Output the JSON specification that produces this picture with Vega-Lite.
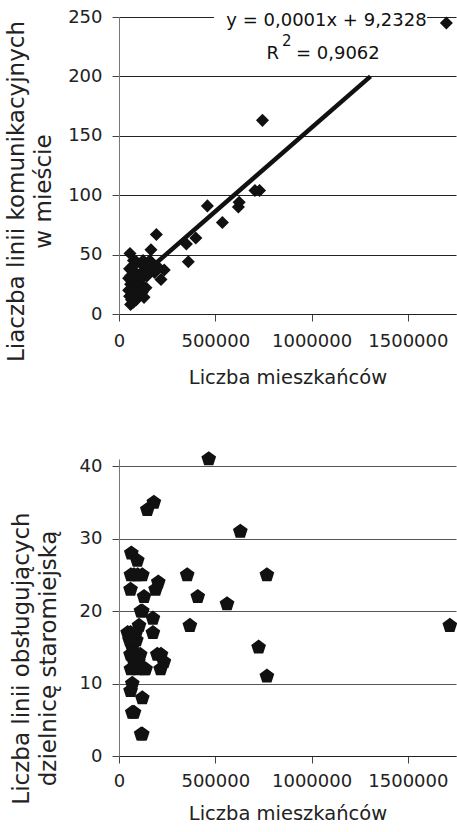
{
  "$schema": "https://vega.github.io/schema/vega-lite/v6.json",
  "background": "white",
  "padding": {"left": 5, "top": 8, "right": 0, "bottom": 0},
  "spacing": 145,
  "bounds": "flush",
  "config": {
    "font": "DejaVu Sans",
    "view": {"stroke": null},
    "axis": {
      "labelFont": "DejaVu Sans",
      "labelFontSize": 18,
      "labelColor": "#222",
      "titleFont": "DejaVu Sans",
      "titleFontWeight": "normal",
      "titleColor": "#222",
      "tickColor": "#444",
      "domainColor": "#777",
      "tickSize": 7
    }
  },
  "datasets": {
    "top": [
      {"pop": 1700000, "lines": 245}, {"pop": 745000, "lines": 163}, {"pop": 706000, "lines": 104},
      {"pop": 730000, "lines": 104}, {"pop": 624000, "lines": 94}, {"pop": 620000, "lines": 90},
      {"pop": 459000, "lines": 91}, {"pop": 537000, "lines": 77}, {"pop": 399000, "lines": 64},
      {"pop": 350000, "lines": 59}, {"pop": 360000, "lines": 44}, {"pop": 194000, "lines": 67},
      {"pop": 57000, "lines": 51}, {"pop": 166000, "lines": 54}, {"pop": 235000, "lines": 37},
      {"pop": 218000, "lines": 29}, {"pop": 200000, "lines": 40}, {"pop": 185000, "lines": 35},
      {"pop": 60000, "lines": 8}, {"pop": 65000, "lines": 12}, {"pop": 55000, "lines": 15},
      {"pop": 75000, "lines": 10}, {"pop": 90000, "lines": 12}, {"pop": 70000, "lines": 18},
      {"pop": 50000, "lines": 20}, {"pop": 60000, "lines": 25}, {"pop": 80000, "lines": 22},
      {"pop": 100000, "lines": 20}, {"pop": 110000, "lines": 25}, {"pop": 95000, "lines": 28},
      {"pop": 75000, "lines": 30}, {"pop": 60000, "lines": 32}, {"pop": 55000, "lines": 38},
      {"pop": 70000, "lines": 40}, {"pop": 85000, "lines": 35}, {"pop": 120000, "lines": 30},
      {"pop": 130000, "lines": 35}, {"pop": 140000, "lines": 40}, {"pop": 115000, "lines": 42},
      {"pop": 150000, "lines": 38}, {"pop": 100000, "lines": 15}, {"pop": 125000, "lines": 45},
      {"pop": 145000, "lines": 32}, {"pop": 160000, "lines": 45}, {"pop": 170000, "lines": 42},
      {"pop": 105000, "lines": 33}, {"pop": 65000, "lines": 28}, {"pop": 85000, "lines": 17},
      {"pop": 50000, "lines": 30}, {"pop": 120000, "lines": 18}, {"pop": 130000, "lines": 14},
      {"pop": 140000, "lines": 22}, {"pop": 90000, "lines": 44}, {"pop": 75000, "lines": 45}
    ],
    "trend": [{"pop": 190000, "lines": 42.5}, {"pop": 1306000, "lines": 200}],
    "box": [{"x1": 493000, "x2": 1600000, "y1": 205, "y2": 251.5}],
    "eq": [
      {"pop": 1077500, "lines": 246.6, "label": "y = 0,0001x + 9,2328", "part": "eq"},
      {"pop": 766000, "lines": 219, "label": "R", "part": "main"},
      {"pop": 846000, "lines": 229.5, "label": "2", "part": "sup"},
      {"pop": 919000, "lines": 219, "label": "= 0,9062", "part": "main"}
    ],
    "bottom": [
      {"pop": 466000, "lines": 41}, {"pop": 181000, "lines": 35}, {"pop": 147000, "lines": 34},
      {"pop": 630000, "lines": 31}, {"pop": 64000, "lines": 28}, {"pop": 95000, "lines": 27},
      {"pop": 78000, "lines": 25}, {"pop": 62000, "lines": 25}, {"pop": 121000, "lines": 25},
      {"pop": 97000, "lines": 25}, {"pop": 354000, "lines": 25}, {"pop": 768000, "lines": 25},
      {"pop": 204000, "lines": 24}, {"pop": 190000, "lines": 23}, {"pop": 60000, "lines": 23},
      {"pop": 130000, "lines": 22}, {"pop": 409000, "lines": 22}, {"pop": 561000, "lines": 21},
      {"pop": 121000, "lines": 20}, {"pop": 114000, "lines": 20}, {"pop": 176000, "lines": 19},
      {"pop": 104000, "lines": 18}, {"pop": 368000, "lines": 18}, {"pop": 1718000, "lines": 18},
      {"pop": 60000, "lines": 17}, {"pop": 45000, "lines": 17}, {"pop": 88000, "lines": 17},
      {"pop": 176000, "lines": 17}, {"pop": 725000, "lines": 15}, {"pop": 69000, "lines": 15},
      {"pop": 60000, "lines": 14}, {"pop": 199000, "lines": 14}, {"pop": 218000, "lines": 14},
      {"pop": 233000, "lines": 13}, {"pop": 78000, "lines": 13}, {"pop": 138000, "lines": 12},
      {"pop": 216000, "lines": 12}, {"pop": 131000, "lines": 12}, {"pop": 62000, "lines": 12},
      {"pop": 100000, "lines": 13}, {"pop": 110000, "lines": 14}, {"pop": 90000, "lines": 16},
      {"pop": 768000, "lines": 11}, {"pop": 69000, "lines": 10}, {"pop": 60000, "lines": 9},
      {"pop": 121000, "lines": 8}, {"pop": 69000, "lines": 6}, {"pop": 78000, "lines": 6},
      {"pop": 121000, "lines": 3}, {"pop": 115000, "lines": 3}, {"pop": 55000, "lines": 16},
      {"pop": 75000, "lines": 14}, {"pop": 95000, "lines": 12}
    ]
  },
  "vconcat": [
    {
      "width": 337,
      "height": 297,
      "layer": [
        {
          "data": {"name": "top"},
          "mark": {"type": "point", "shape": "diamond", "filled": true, "color": "#111", "size": 170, "opacity": 1},
          "encoding": {
            "x": {
              "field": "pop", "type": "quantitative",
              "scale": {"domain": [0, 1750000], "nice": false},
              "axis": {"values": [0, 500000, 1000000, 1500000], "format": "d", "labelFlush": false, "labelOverlap": false, "grid": false, "domainColor": "#222", "titleFontSize": 19.5, "labelPadding": 11, "titlePadding": 18},
              "title": "Liczba mieszkańców"
            },
            "y": {
              "field": "lines", "type": "quantitative",
              "scale": {"domain": [0, 250], "nice": false},
              "axis": {"values": [0, 50, 100, 150, 200, 250], "grid": true, "gridColor": "#222", "labelPadding": 10, "titleFontSize": 23, "titleLineHeight": 27, "titlePadding": 12, "titleY": 174},
              "title": ["Liaczba linii komunikacyjnych", "w mieście"]
            }
          }
        },
        {
          "data": {"name": "trend"},
          "mark": {"type": "line", "color": "#111", "strokeWidth": 4.5},
          "encoding": {
            "x": {"field": "pop", "type": "quantitative"},
            "y": {"field": "lines", "type": "quantitative"}
          }
        },
        {
          "data": {"name": "box"},
          "mark": {"type": "rect", "color": "white", "opacity": 1},
          "encoding": {
            "x": {"field": "x1", "type": "quantitative"},
            "x2": {"field": "x2"},
            "y": {"field": "y1", "type": "quantitative"},
            "y2": {"field": "y2"}
          }
        },
        {
          "data": {"name": "eq"},
          "transform": [{"filter": "datum.part === 'eq'"}],
          "mark": {"type": "text", "fontSize": 18, "color": "#111"},
          "encoding": {
            "x": {"field": "pop", "type": "quantitative"},
            "y": {"field": "lines", "type": "quantitative"},
            "text": {"field": "label"}
          }
        },
        {
          "data": {"name": "eq"},
          "transform": [{"filter": "datum.part === 'main'"}],
          "mark": {"type": "text", "fontSize": 18, "color": "#111", "align": "left"},
          "encoding": {
            "x": {"field": "pop", "type": "quantitative"},
            "y": {"field": "lines", "type": "quantitative"},
            "text": {"field": "label"}
          }
        },
        {
          "data": {"name": "eq"},
          "transform": [{"filter": "datum.part === 'sup'"}],
          "mark": {"type": "text", "fontSize": 15, "color": "#111", "align": "left"},
          "encoding": {
            "x": {"field": "pop", "type": "quantitative"},
            "y": {"field": "lines", "type": "quantitative"},
            "text": {"field": "label"}
          }
        }
      ]
    },
    {
      "width": 337,
      "height": 297,
      "data": {"name": "bottom"},
      "mark": {"type": "point", "shape": "M0,-1L0.951,-0.309L0.588,0.809L-0.588,0.809L-0.951,-0.309Z", "filled": true, "color": "#111", "size": 240, "opacity": 1},
      "encoding": {
        "x": {
          "field": "pop", "type": "quantitative",
          "scale": {"domain": [0, 1750000], "nice": false},
          "axis": {"values": [0, 500000, 1000000, 1500000], "format": "d", "labelFlush": false, "labelOverlap": false, "grid": false, "domainColor": "#222", "titleFontSize": 19.5, "labelPadding": 9, "titlePadding": 14},
          "title": "Liczba mieszkańców"
        },
        "y": {
          "field": "lines", "type": "quantitative",
          "scale": {"domain": [0, 41], "nice": false},
          "axis": {"values": [0, 10, 20, 30, 40], "grid": true, "gridColor": "#555", "labelPadding": 10, "titleFontSize": 23, "titleLineHeight": 27, "titlePadding": 19, "titleY": 199},
          "title": ["Liczba linii obsługujących", "dzielnicę staromiejską"]
        }
      }
    }
  ]
}
